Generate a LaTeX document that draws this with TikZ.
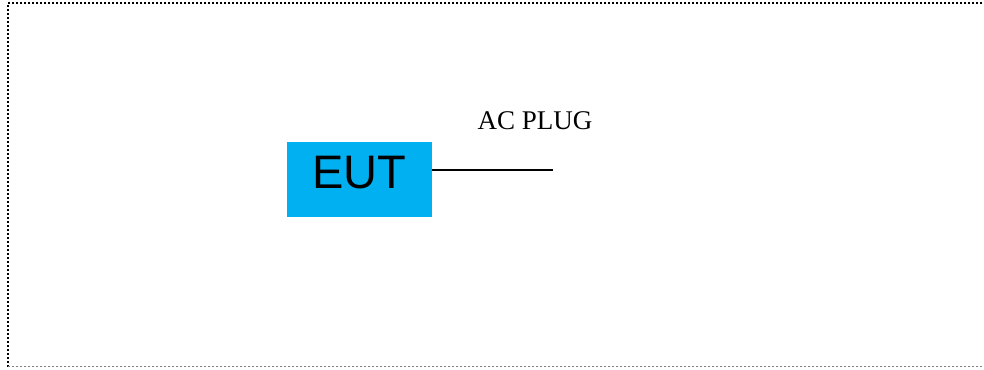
\documentclass[tikz,border=0pt]{standalone}
\usepackage{fontspec}
\setmainfont{Liberation Serif}
\newfontfamily\arialfont{Liberation Sans}
\usetikzlibrary{positioning}
\definecolor{eutblue}{HTML}{00B0F0}
\tikzset{
  eut/.style={
    rectangle,
    minimum width=145pt,
    minimum height=75pt,
    inner sep=0pt,
    text depth=14pt,
    font=\arialfont\fontsize{47}{47}\selectfont,
    fill=eutblue
    },
  annot/.style={
    inner sep=0pt,
    font=\fontsize{27}{28}\selectfont
    },
  cable/.style={line width=1.6pt},
  frame/.style={line width=2pt, dash pattern=on 2pt off 2pt},
}

\begin{document}
\begin{tikzpicture}[x=1pt,y=-1pt]
    \useasboundingbox (0,0) rectangle (984,369);

    % Draw the dotted frame
    \draw[frame, black] (990,3.5) -- (7.5,3.5) -- (7.5,366.5);
    \draw[frame, black!50, line width=1.5pt] (7.5,366.5) -- (990,366.5);

    % Draw the EUT box and its cable
    \node[eut] (EUT) at (359.5,179.5) {EUT};
    \coordinate (plug) at (553,170);
    \draw[cable] (EUT.east |- plug) -- (plug);

    % Annotate the plug
    \node[annot, anchor=base] (plug-label) at (535,129) {AC PLUG};
\end{tikzpicture}
\end{document}
